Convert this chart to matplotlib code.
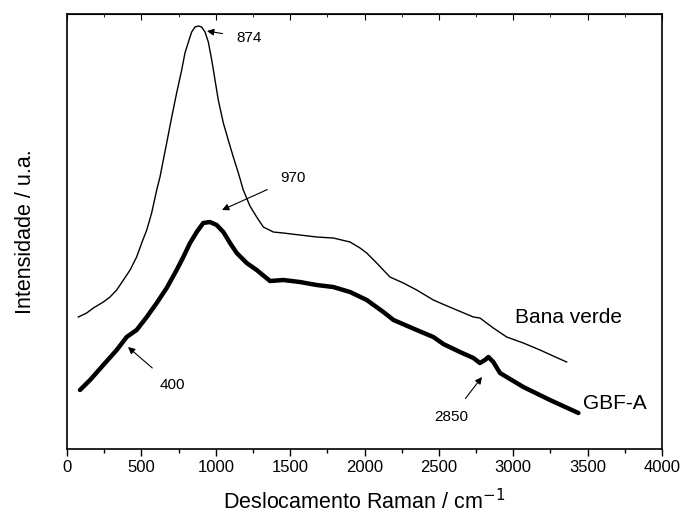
import matplotlib
matplotlib.use("Agg")
import matplotlib.pyplot as plt
from matplotlib.ticker import MultipleLocator

plt.rcParams['font.family'] = ['Liberation Sans', 'DejaVu Sans']

# Raman shift (cm-1) and intensity (a.u.)
bana_x = [76, 132, 177, 244, 289, 334, 379, 424, 468, 502, 536, 569, 603, 625,
          670, 704, 737, 771, 793, 816, 838, 860, 883, 905, 928, 950, 973, 995,
          1017, 1051, 1084, 1118, 1152, 1185, 1230, 1275, 1320, 1387, 1454,
          1566, 1679, 1790, 1903, 1970, 2015, 2082, 2171, 2261, 2351, 2463,
          2540, 2620, 2732, 2776, 2866, 2956, 3068, 3180, 3269, 3359]
bana_y = [132, 136, 141, 147, 152, 159, 169, 179, 192, 206, 219, 236, 259, 272,
          306, 332, 356, 379, 396, 407, 417, 422, 423, 422, 417, 407, 389, 369,
          349, 326, 309, 292, 276, 259, 243, 232, 222, 217, 216,
          214, 212, 211, 207, 201, 196, 186, 172, 166, 159, 149,
          144, 139, 132, 131, 121, 112, 106, 99, 93, 87]

gbf_x = [87, 155, 244, 334, 401, 468, 536, 603, 670, 737, 782, 827, 872, 916,
         961, 1006, 1051, 1096, 1141, 1208, 1275, 1365, 1454, 1566, 1679, 1790,
         1903, 2015, 2127, 2195, 2351, 2463, 2530, 2642, 2732, 2776, 2810, 2833,
         2866, 2911, 3068, 3247, 3438]
gbf_y = [59, 69, 84, 99, 112, 119, 132, 146, 161, 179, 192, 206, 217, 226,
         227, 224, 217, 206, 196, 186, 179, 168, 169, 167, 164, 162,
         157, 149, 137, 129, 119, 112, 105, 97, 91, 86, 89, 92,
         87, 76, 62, 49, 36]

# peak labels: text, text position, arrow head
peaks = ["874", "970", "400", "2850"]
peak_text = [(1224, 411), (1519, 271), (706, 64), (2582, 32)]
peak_head = [(941, 418), (1042, 239), (410, 102), (2790, 72)]

fig = plt.figure(figsize=(6.81, 5.17), dpi=100)
ax = fig.add_axes([0.0984, 0.1315, 0.8737, 0.8414])

ax.plot(bana_x, bana_y, color='black', lw=1.0, solid_joinstyle='round')
ax.plot(gbf_x, gbf_y, color='black', lw=3.2, solid_joinstyle='round',
        solid_capstyle='round')

for lab, txt, head in zip(peaks, peak_text, peak_head):
    ax.annotate(lab, xy=head, xytext=txt, fontsize=11, ha='center', va='center',
                arrowprops=dict(arrowstyle='-|>', color='black', lw=0.8,
                                shrinkA=8, shrinkB=0, mutation_scale=10))

ax.text(3012, 132, "Bana verde", fontsize=15, ha='left', va='center')
ax.text(3469, 46, "GBF-A", fontsize=15, ha='left', va='center')

ax.set_xlim(0, 4000)
ax.set_ylim(0, 435)
ax.xaxis.set_major_locator(MultipleLocator(500))
ax.xaxis.set_minor_locator(MultipleLocator(250))
ax.tick_params(axis='x', which='major', direction='out', length=5, width=1,
               labelsize=12, pad=3)
ax.tick_params(axis='x', which='minor', direction='out', length=3, width=1)
ax.tick_params(axis='y', left=False, labelleft=False)
for s in ax.spines.values():
    s.set_linewidth(1.2)

# inward ticks on the top axis
top = ax.secondary_xaxis('top')
top.xaxis.set_major_locator(MultipleLocator(500))
top.xaxis.set_minor_locator(MultipleLocator(250))
top.tick_params(which='major', direction='in', length=4, labeltop=False)
top.tick_params(which='minor', direction='in', length=2)

ax.set_xlabel("Deslocamento Raman / cm$^{-1}$", fontsize=15.5, labelpad=10)
ax.set_ylabel("Intensidade / u.a.", fontsize=15.5, labelpad=22)

fig.savefig("out.png", dpi=100)
